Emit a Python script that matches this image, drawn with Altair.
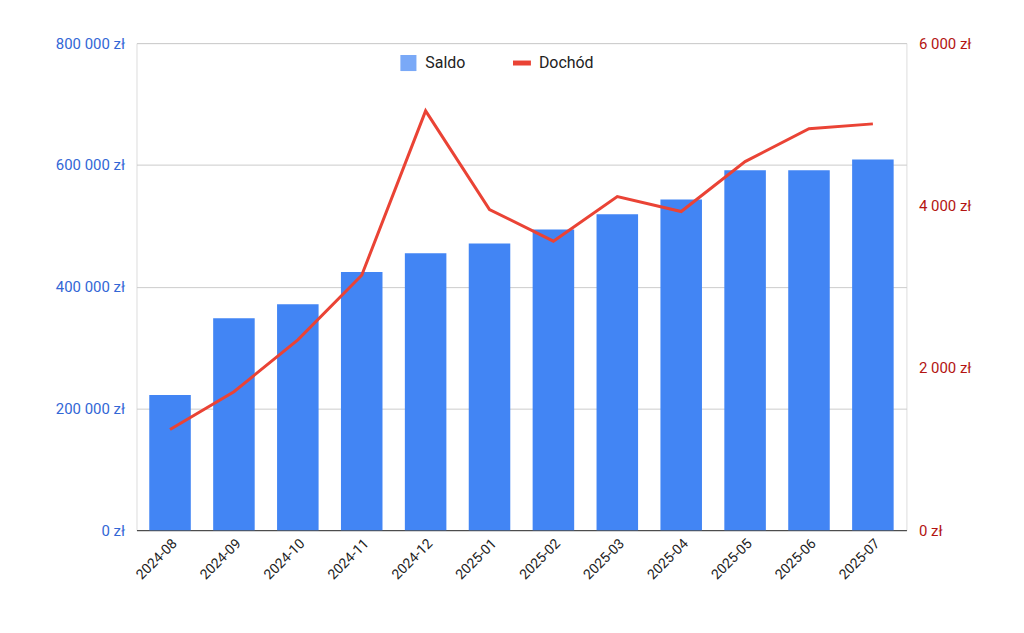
import altair as alt
import pandas as pd

months = ["2024-08", "2024-09", "2024-10", "2024-11", "2024-12", "2025-01",
          "2025-02", "2025-03", "2025-04", "2025-05", "2025-06", "2025-07"]
saldo = [222000, 348000, 371000, 424000, 455000, 471000,
         494000, 519000, 543000, 591000, 591000, 609000]
dochod = [1240, 1705, 2345, 3140, 5165, 3950, 3560, 4110, 3925, 4540, 4945, 5005]

df = pd.DataFrame({"month": months, "saldo": saldo, "dochod": dochod})

FONT = "Roboto"
zl = "replace(format(datum.value, ',.0f'), ',', ' ') + ' zł'"

x = alt.X("month:N", title=None, scale=alt.Scale(paddingInner=0.35, paddingOuter=0.2),
          axis=alt.Axis(labelAngle=-45, labelFontSize=14, labelColor="#222", ticks=False,
                        domainColor="#333", labelPadding=6))

bars = alt.Chart(df).mark_bar(color="#4285f4").encode(
    x=x,
    y=alt.Y("saldo:Q", title=None, scale=alt.Scale(domain=[0, 800000]),
            axis=alt.Axis(values=[0, 200000, 400000, 600000, 800000], labelExpr=zl,
                          labelColor="#3367d6", labelFontSize=15, gridColor="#ccc",
                          domain=False, ticks=False, labelPadding=12)),
)

line = alt.Chart(df).mark_line(color="#ea4335", strokeWidth=3).encode(
    x=x,
    y=alt.Y("dochod:Q", title=None, scale=alt.Scale(domain=[0, 6000]),
            axis=alt.Axis(orient="right", values=[0, 2000, 4000, 6000], labelExpr=zl,
                          labelColor="#b31412", labelFontSize=15, grid=False,
                          domain=False, ticks=False, labelPadding=12)),
)

legend_df = pd.DataFrame({"name": ["Saldo", "Dochód"]})
leg_sq = alt.Chart(legend_df).transform_filter("datum.name == 'Saldo'").mark_square(
    color="#4285f4", size=260).encode(x=alt.value(273), y=alt.value(20))
leg_rule = alt.Chart(legend_df).transform_filter("datum.name == 'Dochód'").mark_rule(
    color="#ea4335", strokeWidth=5).encode(x=alt.value(378), x2=alt.value(396), y=alt.value(20))
leg_t1 = alt.Chart(legend_df).transform_filter("datum.name == 'Saldo'").mark_text(
    align="left", fontSize=16, font=FONT, color="#222").encode(
    x=alt.value(290), y=alt.value(20), text="name:N")
leg_t2 = alt.Chart(legend_df).transform_filter("datum.name == 'Dochód'").mark_text(
    align="left", fontSize=16, font=FONT, color="#222").encode(
    x=alt.value(404), y=alt.value(20), text="name:N")

main = alt.layer(bars, line).resolve_scale(y="independent")
chart = alt.layer(main, leg_sq, leg_rule, leg_t1, leg_t2).properties(
    width=773, height=489, autosize=alt.AutoSizeParams(type="none"),
    padding={"left": 129, "top": 34, "right": 110, "bottom": 100},
).configure_view(stroke=None).configure(font=FONT)

chart.save("out.html", embed_options={"renderer": "svg", "actions": False})
